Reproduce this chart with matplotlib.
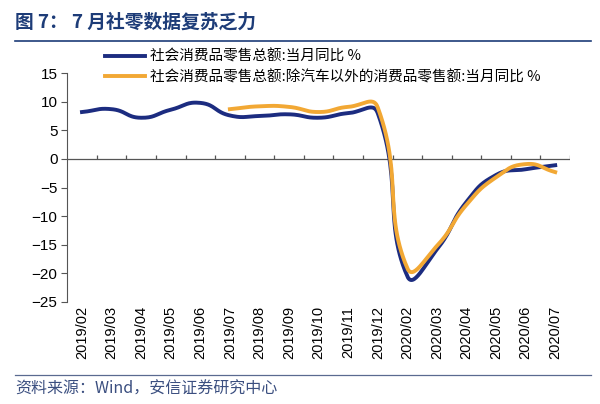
import numpy as np
import matplotlib
matplotlib.use("Agg")
import matplotlib.pyplot as plt

plt.rcParams['font.family'] = ['Liberation Sans', 'Noto Sans CJK SC', 'DejaVu Sans']

# data
months = ['2019/02', '2019/03', '2019/04', '2019/05', '2019/06', '2019/07',
          '2019/08', '2019/09', '2019/10', '2019/11', '2019/12', '2020/02',
          '2020/03', '2020/04', '2020/05', '2020/06', '2020/07']
retail_total = [8.2, 8.7, 7.2, 8.6, 9.8, 7.6, 7.5, 7.8, 7.2, 8.0, 8.0,
                -20.5, -15.8, -7.5, -2.8, -1.8, -1.1]
retail_ex_auto = [None, None, None, None, None, 8.7, 9.2, 9.1, 8.2, 9.1, 9.0,
                  -19.1, -15.2, -8.0, -3.2, -0.9, -2.3]
label_total = '社会消费品零售总额:当月同比 %'
label_ex_auto = '社会消费品零售总额:除汽车以外的消费品零售额:当月同比 %'

BLUE = '#1c2c80'
ORANGE = '#f2a834'
TITLE_BLUE = '#1d3c78'
AXIS_GREY = '#555555'


def smooth(xs, ys, n=30, f=0.5, sx=29.6, sy=5.72):
    # smoothed-line bezier; tangents weighted by on-screen segment length
    xs = np.asarray(xs, float)
    ys = np.asarray(ys, float)
    P = np.column_stack([xs, ys])
    m = len(P)

    def dist(a, b):
        return np.hypot((b[0] - a[0]) * sx, (b[1] - a[1]) * sy)

    out_c, in_c = [None] * m, [None] * m
    for i in range(m):
        p0 = P[max(i - 1, 0)]
        p2 = P[min(i + 1, m - 1)]
        d01 = dist(p0, P[i])
        d12 = dist(P[i], p2)
        tot = d01 + d12 if d01 + d12 > 0 else 1.0
        T = p2 - p0
        in_c[i] = P[i] - T * f * d01 / tot
        out_c[i] = P[i] + T * f * d12 / tot
    out_x, out_y = [], []
    t = np.linspace(0, 1, n)[:, None]
    for i in range(m - 1):
        p1, c1, c2, p2 = P[i], out_c[i], in_c[i + 1], P[i + 1]
        pts = ((1 - t) ** 3) * p1 + 3 * ((1 - t) ** 2) * t * c1 + 3 * (1 - t) * t ** 2 * c2 + t ** 3 * p2
        out_x.extend(pts[:, 0])
        out_y.extend(pts[:, 1])
    return out_x, out_y


fig = plt.figure(figsize=(6, 4.04), dpi=100)
ax = fig.add_axes([0.112, 0.2525, 0.838, 0.5665])

x = np.arange(len(months))
ax.axhline(0, color=AXIS_GREY, lw=0.9, zorder=1)
# category boundary ticks on the zero line, pointing up
ax.vlines(np.arange(0.5, len(months), 1.0), 0, 0.75, color=AXIS_GREY, lw=0.9, zorder=1)

sx, sy = smooth(x, retail_total)
ax.plot(sx, sy, color=BLUE, lw=2.8, label=label_total, zorder=3)

idx = [i for i, v in enumerate(retail_ex_auto) if v is not None]
sx2, sy2 = smooth(x[idx], [retail_ex_auto[i] for i in idx])
ax.plot(sx2, sy2, color=ORANGE, lw=2.8, label=label_ex_auto, zorder=4)

ax.set_xlim(-0.5, len(months) - 0.5)
ax.set_ylim(-25, 15)
ax.set_yticks(range(-25, 20, 5))
ax.tick_params(axis='y', direction='out', length=4, labelsize=11, color=AXIS_GREY, pad=3)

ax.set_xticks(x)
ax.set_xticklabels(months, rotation=90, fontsize=10.5)
ax.tick_params(axis='x', length=0, pad=3)

for s in ['top', 'right', 'bottom']:
    ax.spines[s].set_visible(False)
ax.spines['left'].set_color(AXIS_GREY)

leg = fig.legend(loc='upper left', bbox_to_anchor=(0.165, 0.892), frameon=False,
                 fontsize=10.5, handlelength=2.75, handletextpad=0.35, labelspacing=0.45,
                 borderaxespad=0)
for t in leg.get_texts():
    t.set_family(['Noto Sans CJK SC', 'DejaVu Sans'])

fig.text(0.025, 0.945, '图 7： 7 月社零数据复苏乏力', fontsize=13.5, fontweight='bold',
         color=TITLE_BLUE, family=['Noto Sans CJK SC', 'DejaVu Sans'], va='center')
fig.add_artist(plt.Line2D([0.025, 0.985], [0.898, 0.898], color=TITLE_BLUE, lw=1.2))

fig.add_artist(plt.Line2D([0.025, 0.985], [0.073, 0.073], color='#5a6a90', lw=0.9))
fig.text(0.025, 0.036, '资料来源：Wind，安信证券研究中心', fontsize=11.5, style='italic',
         color='#3b4f80', family=['Noto Sans CJK SC', 'DejaVu Sans'], va='center')

fig.savefig('out.png', dpi=100)
